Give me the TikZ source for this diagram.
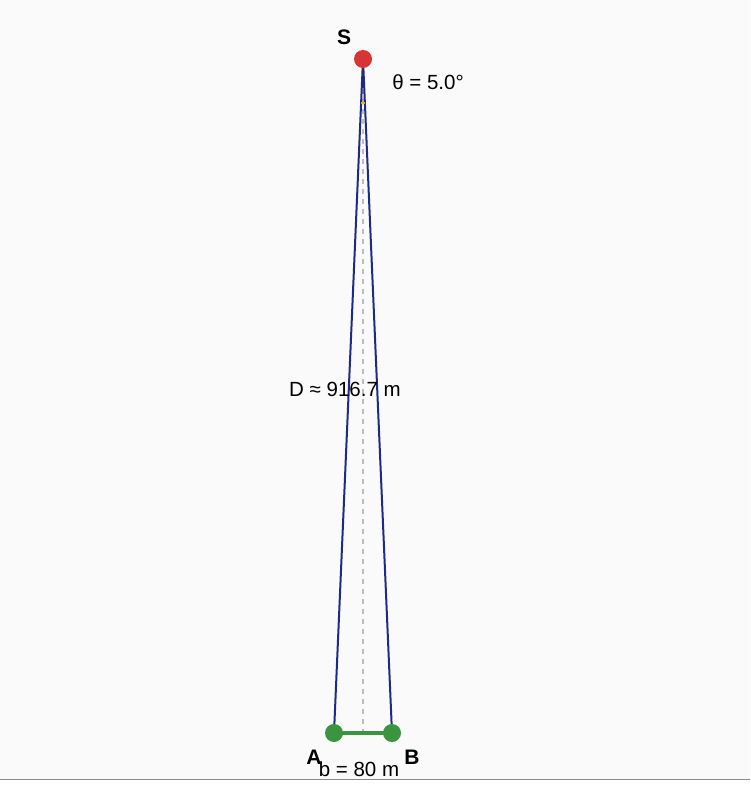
\documentclass[tikz,border=0pt]{standalone}
\usepackage{fontspec}
\setmainfont{Liberation Sans}
\usetikzlibrary{positioning}
\definecolor{panel}{HTML}{FAFAFA}
\definecolor{frame}{HTML}{8A8A8A}
\definecolor{ray}{HTML}{1F2A85}
\definecolor{station}{HTML}{3A9440}
\definecolor{target}{HTML}{D93434}
\definecolor{anglemark}{HTML}{F2A922}
\definecolor{guide}{HTML}{BDBDBD}

\begin{document}
\begin{tikzpicture}[x=1pt,y=-1pt,
      every node/.style={font=\fontsize{20.5}{24}\selectfont},
      point/.style={circle,inner sep=0pt,minimum size=18pt},
      tag/.style={font=\bfseries\fontsize{21}{24}\selectfont},
      sightline/.style={ray,line width=2pt},
      baseline/.style={station,line width=4pt}]

      \useasboundingbox (0,0) rectangle (750,790);
      \fill[panel] (0,0) rectangle (750,779);
      \draw[frame,line width=1pt] (0,779) -- (750,779);

      \coordinate (s) at (363,59);
      \coordinate (a) at (334,733);
      \coordinate (b) at (392,733);
      \coordinate (mid) at (363,733);

      % sight lines and centre line
      \draw[guide,line width=1.2pt,dash pattern=on 5pt off 5pt] (s) -- (mid);
      \draw[sightline] (s) -- (a);
      \draw[sightline] (s) -- (b);
      \draw[anglemark,line width=2pt] (s) ++(87.54:44) arc[start angle=87.54,end angle=92.46,radius=44];
      \draw[baseline] (a) -- (b);

      \node[point,fill=target] (S) at (s) {};
      \node[point,fill=station] (A) at (a) {};
      \node[point,fill=station] (B) at (b) {};

      % labels
      \node[tag] (S-tag) at (344,37) {S};
      \node[tag] (A-tag) at (314,757) {A};
      \node[tag] (B-tag) at (412,757) {B};
      \node (theta) at (428,82) {θ = 5.0°};
      \node (dist) at (345,389) {D ≈ 916.7 m};
      \node (base) at (359,769) {b = 80 m};
    \end{tikzpicture}
\end{document}
